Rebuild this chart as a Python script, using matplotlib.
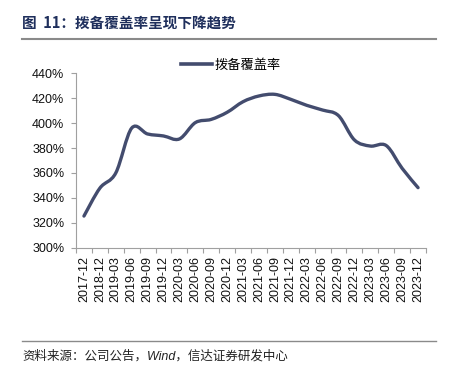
import matplotlib.pyplot as plt
from matplotlib.path import Path
from matplotlib.patches import PathPatch
from matplotlib.lines import Line2D
from matplotlib.ticker import FuncFormatter, FixedLocator

plt.rcParams['font.family'] = ['Liberation Sans', 'Noto Sans CJK SC', 'DejaVu Sans']

periods = ["2017-12", "2018-12", "2019-03", "2019-06", "2019-09", "2019-12",
           "2020-03", "2020-06", "2020-09", "2020-12", "2021-03", "2021-06",
           "2021-09", "2021-12", "2022-03", "2022-06", "2022-09", "2022-12",
           "2023-03", "2023-06", "2023-09", "2023-12"]
coverage = [325.4, 347.8, 360.0, 396.0, 391.3, 389.7, 387.3, 400.4, 403.0, 408.7,
            417.2, 421.8, 423.1, 419.1, 414.3, 410.5, 406.0, 386.5, 381.6, 382.0,
            363.7, 348.2]

line_color = "#434c6e"
cjk = ['Noto Sans CJK SC', 'DejaVu Sans']

fig = plt.figure(figsize=(4.51, 3.76), dpi=100)
ax = fig.add_axes([76 / 451, 1 - 247.7 / 376, 350 / 451, 174.4 / 376])

# smoothed line like Excel (Catmull-Rom as cubic Bezier)
xs = list(range(len(coverage)))
ys = coverage
verts = [(xs[0], ys[0])]
codes = [Path.MOVETO]
n = len(xs)
for i in range(n - 1):
    x0, y0 = (xs[i - 1], ys[i - 1]) if i > 0 else (xs[i], ys[i])
    x1, y1 = xs[i], ys[i]
    x2, y2 = xs[i + 1], ys[i + 1]
    x3, y3 = (xs[i + 2], ys[i + 2]) if i + 2 < n else (x2, y2)
    c1 = (x1 + (x2 - x0) / 6, y1 + (y2 - y0) / 6)
    c2 = (x2 - (x3 - x1) / 6, y2 - (y3 - y1) / 6)
    verts += [c1, c2, (x2, y2)]
    codes += [Path.CURVE4] * 3
ax.add_patch(PathPatch(Path(verts, codes), fill=False, edgecolor=line_color,
                       lw=2.4, capstyle='round', joinstyle='round'))

ax.set_xlim(-0.5, n - 0.5)
ax.set_ylim(300, 440)
ax.set_yticks(range(300, 441, 20))
ax.yaxis.set_major_formatter(FuncFormatter(lambda v, p: f"{v:.0f}%"))
ax.set_xticks(xs)
ax.set_xticklabels(periods, rotation=90)
ax.xaxis.set_minor_locator(FixedLocator([i - 0.5 for i in range(n + 1)]))
ax.tick_params(axis='x', which='major', length=0, pad=6, labelsize=9, labelcolor="#111111")
ax.tick_params(axis='x', which='minor', length=3.5, color="#a0a0a0", width=0.8)
ax.tick_params(axis='y', length=3.5, color="#a0a0a0", width=0.8, labelsize=9, pad=5,
               labelcolor="#111111")
for s in ['top', 'right']:
    ax.spines[s].set_visible(False)
for s in ['left', 'bottom']:
    ax.spines[s].set_color("#a0a0a0")
    ax.spines[s].set_linewidth(0.8)

handle = Line2D([], [], color=line_color, lw=2.6)
leg = fig.legend([handle], ["拨备覆盖率"], loc='center', bbox_to_anchor=(231 / 451, 1 - 65 / 376),
                 frameon=False, prop={'family': cjk, 'size': 9.5}, handlelength=2.3,
                 handletextpad=0.2)

fig.text(22 / 451, 1 - 23 / 376, "图  11：拨备覆盖率呈现下降趋势", family=cjk, fontsize=10.5,
         fontweight='bold', color="#1f2f5c", va='center', ha='left')
fig.add_artist(Line2D([22 / 451, 436 / 451], [1 - 38.5 / 376, 1 - 38.5 / 376], color="#8a8a8a", lw=1.5))
fig.add_artist(Line2D([22 / 451, 436 / 451], [1 - 341 / 376, 1 - 341 / 376], color="#8a8a8a", lw=1.0))
fig.text(22 / 451, 1 - 356 / 376, "资料来源：公司公告，Wind，信达证券研发中心",
         family=['Liberation Sans', 'Noto Sans CJK SC'], style='italic', fontsize=9,
         color="#222222", va='center', ha='left')

fig.savefig("out.png", dpi=100)
